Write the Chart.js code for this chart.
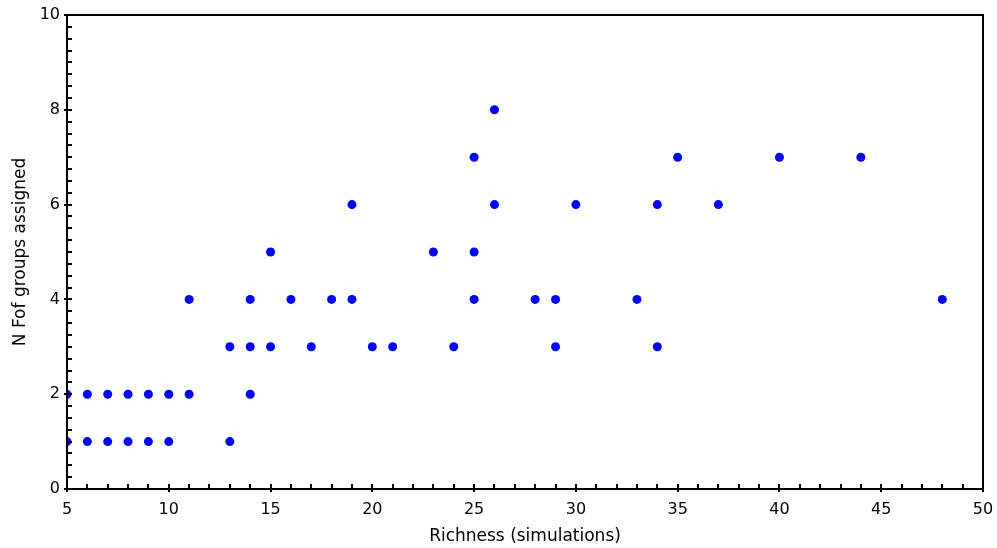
<!DOCTYPE html>
<html>
<head>
<meta charset="utf-8">
<script src="https://cdn.jsdelivr.net/npm/chart.js@4.4.0/dist/chart.umd.min.js"></script>
<style>
  body { margin: 0; background: #fff; }
  #wrap { width: 997px; height: 548px; }
</style>
</head>
<body>
<div id="wrap"><canvas id="scatterChart" width="997" height="548"></canvas></div>
<script>
// Richness (simulations) vs number of FoF groups assigned
const richness = [5, 6, 7, 8, 9, 10, 11, 14,
                  5, 6, 7, 8, 9, 10, 13,
                  13, 14, 15, 17, 20, 21, 24, 29, 34,
                  11, 14, 16, 18, 19, 25, 28, 29, 33, 48,
                  15, 23, 25,
                  19, 26, 30, 34, 37,
                  25, 35, 40, 44,
                  26];
const groups = [2, 2, 2, 2, 2, 2, 2, 2,
                1, 1, 1, 1, 1, 1, 1,
                3, 3, 3, 3, 3, 3, 3, 3, 3,
                4, 4, 4, 4, 4, 4, 4, 4, 4, 4,
                5, 5, 5,
                6, 6, 6, 6, 6,
                7, 7, 7, 7,
                8];

const xMajorEvery = 5;
const yMajorEvery = 2;

function makePoints(xs, ys) {
    const pts = [];
    for (let i = 0; i < xs.length; i++) {
        pts.push({ x: xs[i], y: ys[i] });
    }
    return pts
}

// draws the frame and inward tick marks like the original plot
const frameTicks = {
    id: 'frameTicks',
    afterDraw(chart) {
        const ctx = chart.ctx;
        const a = chart.chartArea;
        const xs = chart.scales.x;
        const ys = chart.scales.y;
        ctx.save();
        ctx.strokeStyle = '#000';
        ctx.lineWidth = 2;
        ctx.strokeRect(a.left, a.top, a.right - a.left, a.bottom - a.top);
        ctx.beginPath();
        xs.ticks.forEach(t => {
            const px = Math.round(xs.getPixelForValue(t.value));
            const major = t.value % xMajorEvery === 0;
            ctx.moveTo(px, a.bottom + (major ? 3 : 0));
            ctx.lineTo(px, a.bottom - 5);
        });
        ys.ticks.forEach(t => {
            const py = Math.round(ys.getPixelForValue(t.value));
            const major = t.value % yMajorEvery === 0;
            ctx.moveTo(a.left - (major ? 3 : 0), py);
            ctx.lineTo(a.left + 5, py);
        });
        ctx.stroke();
        ctx.restore();
    }
};

const ctx = document.getElementById('scatterChart').getContext('2d');

new Chart(ctx, {
    type: 'scatter',
    data: {
        datasets: [{
            label: 'N Fof groups',
            data: makePoints(richness, groups),
            backgroundColor: '#0000ff',
            borderWidth: 0,
            pointRadius: 4.5,
            pointHoverRadius: 4.5
        }]
    },
    options: {
        responsive: false,
        animation: false,
        layout: {
            padding: { left: 0, top: 15, right: 14, bottom: 0 }
        },
        plugins: {
            legend: { display: false },
            tooltip: { enabled: false }
        },
        scales: {
            x: {
                type: 'linear',
                min: 5,
                max: 50,
                grid: { display: false, drawTicks: false },
                border: { display: false },
                afterFit(scale) {
                    scale.height = 59;
                    scale.paddingLeft = 0;
                    scale.paddingRight = 0;
                },
                ticks: {
                    stepSize: 1,
                    autoSkip: false,
                    maxTicksLimit: 100,
                    maxRotation: 0,
                    padding: 11,
                    color: '#000',
                    font: { family: 'DejaVu Sans', size: 16 },
                    callback: v => (v % xMajorEvery === 0 ? v : '')
                },
                title: {
                    display: true,
                    text: 'Richness (simulations)',
                    color: '#000',
                    font: { family: 'DejaVu Sans', size: 17 },
                    padding: { top: 0, bottom: 1 }
                }
            },
            y: {
                type: 'linear',
                min: 0,
                max: 10,
                grid: { display: false, drawTicks: false },
                border: { display: false },
                afterFit(scale) {
                    scale.width = 67;
                    scale.paddingTop = 0;
                    scale.paddingBottom = 0;
                },
                ticks: {
                    stepSize: 0.25,
                    autoSkip: false,
                    maxTicksLimit: 100,
                    padding: 7,
                    color: '#000',
                    font: { family: 'DejaVu Sans', size: 16 },
                    callback: v => (v % yMajorEvery === 0 ? v : '')
                },
                title: {
                    display: true,
                    text: 'N Fof groups assigned',
                    color: '#000',
                    font: { family: 'DejaVu Sans', size: 17 },
                    padding: { top: 10, bottom: 0 }
                }
            }
        }
    },
    plugins: [frameTicks]
});
</script>
</body>
</html>
